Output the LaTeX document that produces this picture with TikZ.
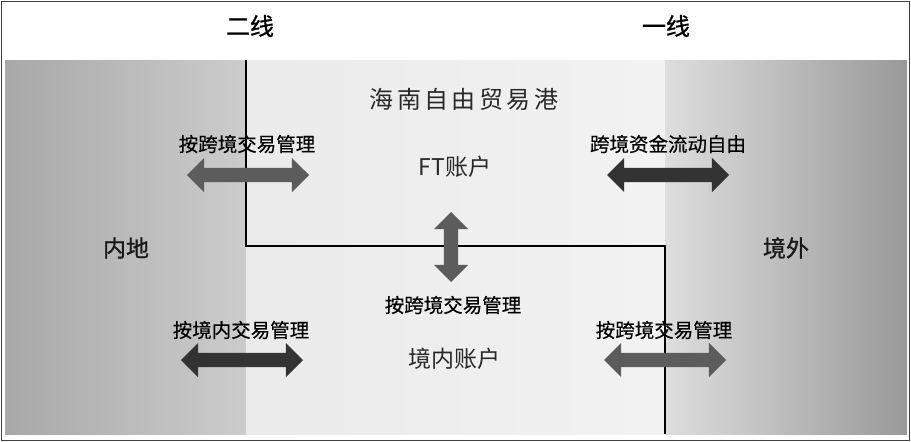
\documentclass[tikz,border=0pt]{standalone}
\usepackage{fontspec}
\usetikzlibrary{shapes.arrows}
\newfontfamily\cjk{Noto Sans CJK SC}
\newfontfamily\cjkm[FakeBold=0.5]{Noto Sans CJK SC}
\newfontfamily\cjkb[FakeBold=1]{Noto Sans CJK SC}
\definecolor{inlandL}{gray}{0.66}
\definecolor{inlandR}{gray}{0.80}
\definecolor{zoneL}{gray}{0.92}
\definecolor{zoneR}{gray}{0.95}
\definecolor{abroadL}{gray}{0.87}
\definecolor{abroadR}{gray}{0.60}
\definecolor{arrowgray}{gray}{0.36}
\definecolor{arrowdark}{gray}{0.20}
\definecolor{textgray}{gray}{0.16}

\begin{document}
\begin{tikzpicture}[x=1pt, y=-1pt,
    headtext/.style={font=\cjkb\fontsize{24}{26}\selectfont, text=black},
    regiontext/.style={font=\cjkb\fontsize{23}{25}\selectfont, text=black!90},
    acctext/.style={font=\cjk\fontsize{23}{25}\selectfont, text=textgray},
    rule/.style={font=\cjkm\fontsize{19.5}{21}\selectfont, text=black},
    blockarrow/.style={double arrow, double arrow head extend=10pt,
        inner xsep=0pt, inner ysep=7pt, minimum width=0pt, draw=none}]
    \useasboundingbox (0,0) rectangle (911,442);
    % Draw regions
    \fill[white] (0,0) rectangle (911,442);
    \shade[left color=inlandL, right color=inlandR] (5,60) rectangle (246,434);
    \shade[left color=zoneL, right color=zoneR] (246,60) rectangle (665,434);
    \shade[left color=abroadL, right color=abroadR] (665,60) rectangle (907,434);
    \draw[black!75, line width=1.5pt] (1.5,1.5) rectangle (909.5,440.5);

    % Draw boundary
    \coordinate (line2top) at (246,60);
    \coordinate (line2bot) at (246,246);
    \coordinate (line1top) at (665,246);
    \coordinate (line1bot) at (665,434);
    \draw[black, line width=1.6pt] (line2top) -- (line2bot) -- (line1top) -- (line1bot);

    % Draw texts
    \node[headtext] (second) at (250,26) {二线};
    \node[headtext] (first) at (666,26) {一线};
    \node[regiontext] (inland) at (126,248) {内地};
    \node[regiontext] (abroad) at (786,248) {境外};
    \node[acctext, font=\cjk\fontsize{24}{26}\selectfont\addfontfeature{LetterSpace=14}] (port) at (464,99) {海南自由贸易港};
    \node[acctext] (ft) at (455,167) {FT账户};
    \node[acctext] (domestic) at (454,359) {境内账户};

    % Draw arrows
    \node[blockarrow, fill=arrowgray, minimum height=122pt] (inft) at (248,175) {};
    \node[blockarrow, fill=arrowdark, minimum height=122pt] (ftout) at (668,175) {};
    \node[blockarrow, fill=arrowgray, minimum height=70pt, rotate=90] (ftdom) at (451,247) {};
    \node[blockarrow, fill=arrowdark, minimum height=122pt] (indom) at (242,360) {};
    \node[blockarrow, fill=arrowgray, minimum height=122pt] (domout) at (665,360) {};

    % Labels
    \node[rule] (inftlab) at (247,144) {按跨境交易管理};
    \node[rule] (ftoutlab) at (668,144) {跨境资金流动自由};
    \node[rule] (ftdomlab) at (453,305) {按跨境交易管理};
    \node[rule] (indomlab) at (241,330) {按境内交易管理};
    \node[rule] (domoutlab) at (664,330) {按跨境交易管理};
\end{tikzpicture}
\end{document}
